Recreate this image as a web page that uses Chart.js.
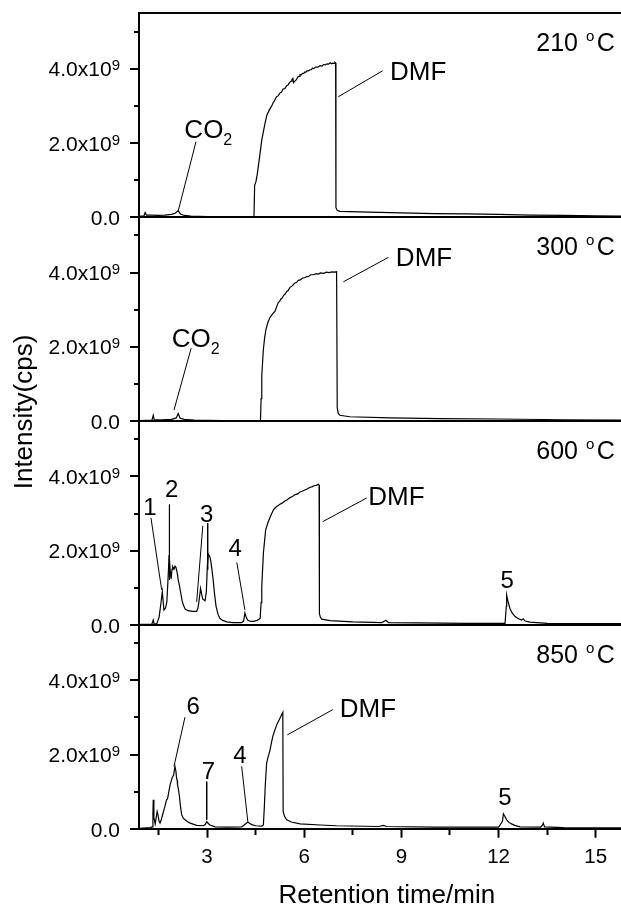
<!DOCTYPE html>
<html>
<head>
<meta charset="utf-8">
<script src="https://cdn.jsdelivr.net/npm/chart.js@4.4.0/dist/chart.umd.min.js"></script>
<style>
  html, body { margin: 0; padding: 0; background: #fff; }
</style>
</head>
<body>
<canvas id="myChart" width="621" height="907"></canvas>
<script>
const FONT = "'Liberation Sans', Arial, Helvetica, sans-serif";

// retention time (min) vs intensity (1e9 cps)
const trace210 = [
    [0.90, 0.02], [1.05, 0.02], [1.09, 0.12], [1.13, 0.05], [1.3, 0.05], [1.5, 0.04], [1.7, 0.05],
    [1.9, 0.07], [2.02, 0.10], [2.11, 0.17], [2.18, 0.08], [2.3, 0.04], [2.5, 0.02], [3.0, 0.01],
    [4.0, 0.01], [4.45, 0.01], [4.47, 0.85], [4.51, 0.95], [4.55, 1.15], [4.62, 1.6], [4.69, 2.07],
    [4.74, 2.3], [4.79, 2.52], [4.85, 2.75], [4.92, 2.88], [5.0, 3.0], [5.04, 3.08], [5.08, 3.13],
    [5.12, 3.2], [5.15, 3.24], [5.2, 3.27], [5.25, 3.34], [5.3, 3.37], [5.35, 3.45], [5.4, 3.46],
    [5.46, 3.54], [5.5, 3.56], [5.55, 3.63], [5.6, 3.66], [5.62, 3.71], [5.65, 3.74], [5.67, 3.62],
    [5.72, 3.67], [5.76, 3.7], [5.8, 3.77], [5.84, 3.79], [5.87, 3.84], [5.91, 3.83], [5.95, 3.87],
    [5.99, 3.87], [6.02, 3.91], [6.05, 3.9], [6.08, 3.94], [6.13, 3.94], [6.18, 3.97], [6.22, 3.97],
    [6.25, 4.01], [6.3, 4.0], [6.35, 4.04], [6.42, 4.04], [6.49, 4.08], [6.55, 4.07], [6.6, 4.11],
    [6.65, 4.1], [6.7, 4.13], [6.75, 4.12], [6.8, 4.16], [6.84, 4.13], [6.88, 4.15], [6.92, 4.14],
    [6.95, 4.17], [6.97, 4.15], [6.98, 0.25], [7.02, 0.18], [7.1, 0.15], [8.0, 0.13], [9.0, 0.11],
    [10.0, 0.09], [11.0, 0.08], [12.0, 0.07], [13.0, 0.05], [14.0, 0.04], [15.0, 0.03], [15.8, 0.02]
];
const trace300 = [
    [0.90, 0.01], [1.3, 0.02], [1.34, 0.15], [1.37, 0.03], [1.6, 0.03], [1.9, 0.04], [2.05, 0.08],
    [2.11, 0.20], [2.17, 0.07], [2.3, 0.04], [2.6, 0.02], [3.5, 0.01], [4.65, 0.01], [4.67, 0.6],
    [4.69, 1.21], [4.72, 1.65], [4.74, 1.93], [4.78, 2.25], [4.82, 2.47], [4.88, 2.66], [4.94, 2.78],
    [5.02, 2.88], [5.1, 2.96], [5.15, 3.08], [5.2, 3.19], [5.24, 3.22], [5.28, 3.29], [5.32, 3.31],
    [5.36, 3.38], [5.41, 3.42], [5.46, 3.49], [5.51, 3.52], [5.56, 3.6], [5.63, 3.64], [5.7, 3.71],
    [5.76, 3.73], [5.82, 3.79], [5.88, 3.8], [5.95, 3.85], [6.01, 3.86], [6.08, 3.89], [6.14, 3.9],
    [6.2, 3.94], [6.28, 3.94], [6.38, 3.97], [6.44, 3.96], [6.5, 3.99], [6.6, 3.98], [6.69, 4.01],
    [6.77, 4.0], [6.85, 4.02], [6.92, 4.01], [7.0, 4.02], [7.02, 0.35], [7.05, 0.20], [7.1, 0.15],
    [7.41, 0.11], [8.65, 0.08], [10.2, 0.06], [12.0, 0.05], [14.0, 0.03], [15.8, 0.02]
];
const trace600 = [
    [0.91, 0.01], [1.3, 0.02], [1.34, 0.13], [1.37, 0.02], [1.45, 0.03], [1.52, 0.2], [1.58, 0.6],
    [1.62, 0.89], [1.67, 0.4], [1.72, 0.45], [1.76, 0.62], [1.80, 1.3], [1.83, 1.88], [1.86, 1.5],
    [1.89, 1.23], [1.92, 1.5], [1.94, 1.57], [1.98, 1.5], [2.01, 1.58], [2.04, 1.55], [2.08, 1.4],
    [2.11, 1.21], [2.15, 1.05], [2.19, 0.85], [2.23, 0.65], [2.27, 0.53], [2.33, 0.42], [2.42, 0.38],
    [2.55, 0.36], [2.68, 0.36], [2.72, 0.45], [2.75, 0.62], [2.8, 0.98], [2.84, 0.8], [2.87, 0.69],
    [2.94, 0.65], [2.98, 0.9], [3.01, 1.6], [3.04, 1.91], [3.08, 1.85], [3.11, 1.75], [3.15, 1.5],
    [3.19, 1.21], [3.23, 0.85], [3.28, 0.49], [3.34, 0.28], [3.40, 0.17], [3.5, 0.11], [3.61, 0.08],
    [3.8, 0.06], [4.07, 0.06], [4.13, 0.1], [4.17, 0.32], [4.21, 0.2], [4.26, 0.12], [4.35, 0.09],
    [4.43, 0.09], [4.55, 0.12], [4.64, 0.17], [4.67, 0.6], [4.69, 1.03], [4.74, 1.93], [4.81, 2.56],
    [4.89, 2.78], [4.97, 2.95], [5.05, 3.1], [5.1, 3.15], [5.15, 3.19], [5.2, 3.22], [5.25, 3.25],
    [5.32, 3.28], [5.4, 3.34], [5.48, 3.37], [5.56, 3.43], [5.64, 3.46], [5.72, 3.51], [5.8, 3.53],
    [5.87, 3.58], [5.94, 3.6], [6.0, 3.63], [6.09, 3.66], [6.18, 3.71], [6.24, 3.72], [6.3, 3.75],
    [6.37, 3.76], [6.44, 3.79], [6.46, 3.77], [6.47, 0.3], [6.5, 0.2], [6.54, 0.15], [6.8, 0.11],
    [7.5, 0.08], [8.4, 0.06], [8.52, 0.12], [8.6, 0.06], [9.5, 0.05], [11.0, 0.04], [12.2, 0.04],
    [12.24, 0.5], [12.25, 0.8], [12.3, 0.6], [12.35, 0.44], [12.42, 0.32], [12.51, 0.22], [12.6, 0.17],
    [12.71, 0.13], [12.76, 0.16], [12.82, 0.1], [12.97, 0.07], [13.5, 0.04], [15.8, 0.03]
];
const trace850 = [
    [0.87, 0.01], [1.25, 0.03], [1.31, 0.05], [1.33, 0.4], [1.34, 0.78], [1.36, 0.3], [1.40, 0.13],
    [1.43, 0.3], [1.46, 0.46], [1.49, 0.35], [1.52, 0.2], [1.55, 0.15], [1.58, 0.22], [1.62, 0.35],
    [1.70, 0.6], [1.75, 0.78], [1.78, 0.8], [1.8, 0.9], [1.86, 1.18], [1.93, 1.39], [1.97, 1.45],
    [2.01, 1.68], [2.04, 1.55], [2.06, 1.36], [2.08, 1.3], [2.09, 1.18], [2.12, 1.05], [2.15, 0.86],
    [2.18, 0.6], [2.22, 0.37], [2.27, 0.28], [2.32, 0.24], [2.4, 0.19], [2.48, 0.15], [2.68, 0.09],
    [2.89, 0.08], [2.95, 0.12], [2.99, 0.19], [3.04, 0.14], [3.09, 0.1], [3.25, 0.05], [3.6, 0.04],
    [4.07, 0.05], [4.15, 0.1], [4.26, 0.18], [4.32, 0.14], [4.38, 0.11], [4.5, 0.08], [4.69, 0.07],
    [4.74, 0.1], [4.77, 0.6], [4.8, 1.2], [4.84, 1.77], [4.89, 1.95], [4.94, 2.1], [4.98, 2.28],
    [5.03, 2.49], [5.09, 2.65], [5.15, 2.8], [5.25, 2.98], [5.34, 3.14], [5.35, 0.46], [5.4, 0.32],
    [5.46, 0.24], [5.6, 0.18], [5.87, 0.13], [6.5, 0.1], [7.0, 0.08], [8.3, 0.06], [8.44, 0.09],
    [8.55, 0.06], [10.0, 0.04], [12.0, 0.04], [12.12, 0.2], [12.15, 0.4], [12.2, 0.32], [12.25, 0.24],
    [12.32, 0.17], [12.4, 0.13], [12.5, 0.09], [12.66, 0.05], [13.3, 0.04], [13.36, 0.1], [13.38, 0.15],
    [13.42, 0.05], [14.0, 0.03], [15.8, 0.02]
];

// leader lines [x1, y1, x2, y2] in axis units
const leaders210 = [[2.66, 2.03, 2.11, 0.16], [8.42, 3.94, 7.05, 3.24]];
const leaders300 = [[2.51, 1.96, 1.98, 0.29], [8.60, 4.41, 7.21, 3.75]];
const leaders600 = [[1.27, 2.88, 1.60, 0.94], [1.84, 3.24, 1.84, 1.21], [2.87, 2.67, 2.68, 0.62],
    [3.02, 2.74, 3.02, 1.48], [3.92, 1.68, 4.17, 0.40], [7.93, 3.42, 6.57, 2.78]];
const leaders850 = [[2.32, 3.01, 1.98, 1.68], [2.99, 1.27, 2.99, 0.24], [4.07, 1.68, 4.26, 0.19],
    [6.88, 3.21, 5.48, 2.53]];

// peak names [text, subscript, x, y]
const names210 = [['CO', '2', 2.30, 2.12], ['DMF', '', 8.65, 3.69]];
const names300 = [['CO', '2', 1.91, 1.99], ['DMF', '', 8.83, 4.18]];
const names600 = [['1', '', 1.03, 2.96], ['2', '', 1.70, 3.44], ['3', '', 2.78, 2.78], ['4', '', 3.66, 1.86],
    ['DMF', '', 7.98, 3.24], ['5', '', 12.06, 0.98]];
const names850 = [['6', '', 2.37, 3.10], ['7', '', 2.84, 1.34], ['4', '', 3.81, 1.77], ['DMF', '', 7.10, 3.01],
    ['5', '', 11.99, 0.64]];

const temps = ['210', '300', '600', '850'];
const xTicks = [1.5, 3, 4.5, 6, 7.5, 9, 10.5, 12, 13.5, 15];
const yTicks = [0, 1, 2, 3, 4, 5];
const yLabels = [[0, '0.0', ''], [2, '2.0x10', '9'], [4, '4.0x10', '9']];

const panels = [
    {id: 'y850', temp: temps[3], trace: trace850, leaders: leaders850, names: names850},
    {id: 'y600', temp: temps[2], trace: trace600, leaders: leaders600, names: names600},
    {id: 'y300', temp: temps[1], trace: trace300, leaders: leaders300, names: names300},
    {id: 'y210', temp: temps[0], trace: trace210, leaders: leaders210, names: names210}
];

const datasets = [];
const scales = {
    x: {
        type: 'linear',
        position: 'bottom',
        min: 0.9,
        max: 15.78,
        afterBuildTicks: a => { a.ticks = xTicks.map(v => ({value: v})); },
        afterFit: a => { a.height = 78.3; },
        ticks: {
            padding: 7, color: '#000', maxRotation: 0, autoSkip: false,
            font: {family: FONT, size: 20.5},
            callback: v => (v % 3 === 0 ? String(v) : '')
        },
        grid: {
            drawOnChartArea: false, tickLength: 9, tickWidth: 2, tickColor: '#000',
            tickBorderDash: c => (c.tick && c.tick.value % 3 ? [5, 30] : [])
        },
        border: {display: true, color: '#000', width: 2}
    }
};

panels.forEach((p, i) => {
    const top = i === panels.length - 1;
    scales[p.id] = {
        type: 'linear',
        position: 'left',
        stack: 'panels',
        stackWeight: 1,
        min: 0,
        max: 5.5,
        afterBuildTicks: a => {
            const vals = top ? yTicks.concat([5.5]) : yTicks;
            a.ticks = vals.map(v => ({value: v}));
        },
        afterFit: a => { a.width = 139; },
        ticks: {display: false},
        grid: {
            lineWidth: 2,
            color: c => (c.tick && (c.tick.value === 0 || c.tick.value === 5.5) ? '#000' : 'rgba(0,0,0,0)'),
            tickLength: 9,
            tickWidth: 2,
            tickColor: c => (c.tick && c.tick.value === 5.5 ? 'rgba(0,0,0,0)' : '#000'),
            tickBorderDash: c => (c.tick && c.tick.value % 2 === 1 ? [0, 4, 5, 30] : [])
        },
        border: {display: true, color: '#000', width: 2}
    };
    datasets.push({
        data: p.trace.map(d => ({x: d[0], y: d[1]})),
        yAxisID: p.id,
        borderColor: '#000',
        borderWidth: 1.2,
        pointRadius: 0,
        tension: 0,
        fill: false
    });
    p.leaders.forEach(l => {
        datasets.push({
            data: [{x: l[0], y: l[1]}, {x: l[2], y: l[3]}],
            yAxisID: p.id,
            borderColor: '#000',
            borderWidth: 1,
            pointRadius: 0,
            fill: false
        });
    });
});

// draw runs of text, each [text, size, dy, gapAfter]
function drawRuns(ctx, runs, x, y, align) {
    let total = 0;
    for (const r of runs) {
        ctx.font = r[1] + 'px ' + FONT;
        total += ctx.measureText(r[0]).width + (r[3] || 0);
    }
    let cx = align === 'right' ? x - total : x;
    ctx.textAlign = 'left';
    ctx.textBaseline = 'alphabetic';
    for (const r of runs) {
        ctx.font = r[1] + 'px ' + FONT;
        ctx.fillText(r[0], cx, y + (r[2] || 0));
        cx += ctx.measureText(r[0]).width + (r[3] || 0);
    }
}

const textPlugin = {
    id: 'texts',
    afterDraw(chart) {
        const ctx = chart.ctx;
        const xs = chart.scales.x;
        ctx.save();
        ctx.fillStyle = '#000';
        panels.forEach(p => {
            const ys = chart.scales[p.id];
            yLabels.forEach(t => {
                const py = ys.getPixelForValue(t[0]);
                const runs = [[t[1], 21, 0]];
                if (t[2]) runs.push([t[2], 15, -6]);
                drawRuns(ctx, runs, 120, py + 7.8, 'right');
            });
            drawRuns(ctx, [[p.temp + ' ', 25, 0, 1], ['o', 15, -10, 2.5], ['C', 25, 0]],
                xs.getPixelForValue(15.59), ys.getPixelForValue(4.48), 'right');
            p.names.forEach(n => {
                const runs = [[n[0], n[0].length > 1 ? 26 : 24, 0]];
                if (n[1]) runs.push([n[1], 16, 7]);
                drawRuns(ctx, runs, xs.getPixelForValue(n[2]), ys.getPixelForValue(n[3]), 'left');
            });
        });
        ctx.font = '26px ' + FONT;
        ctx.textAlign = 'center';
        ctx.textBaseline = 'alphabetic';
        ctx.fillText('Retention time/min', xs.getPixelForValue(8.55), 903);
        ctx.translate(32, 412);
        ctx.rotate(-Math.PI / 2);
        ctx.fillText('Intensity(cps)', 0, 0);
        ctx.restore();
    }
};

const config = {
    type: 'line',
    data: {datasets},
    options: {
        responsive: false,
        animation: false,
        parsing: false,
        layout: {padding: {top: 13, left: 0, right: 0, bottom: 0}},
        plugins: {legend: {display: false}, tooltip: {enabled: false}},
        scales
    },
    plugins: [textPlugin]
};

var myChart = new Chart(document.getElementById('myChart'), config);
</script>
</body>
</html>
